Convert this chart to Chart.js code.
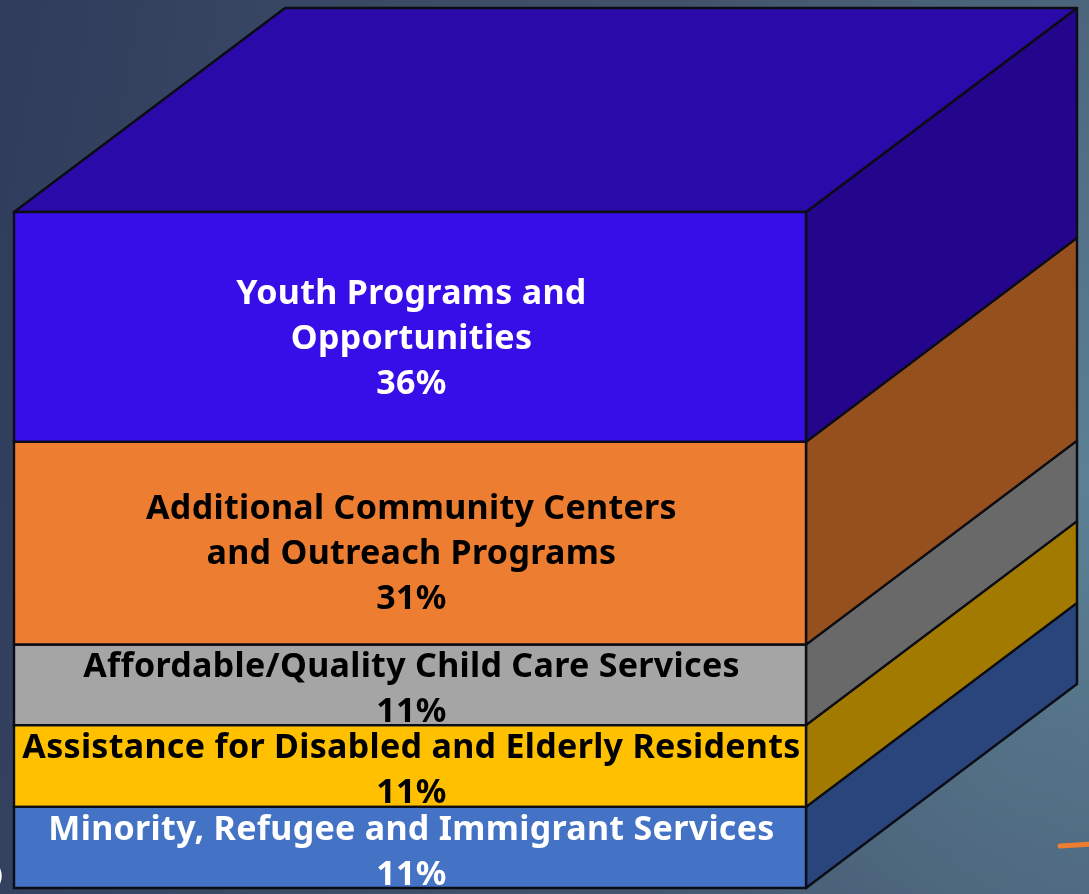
<!DOCTYPE html>
<html>
<head>
<meta charset="utf-8">
<title>Priorities</title>
<script src="https://cdn.jsdelivr.net/npm/chart.js@4"></script>
<style>
    html, body { margin: 0; padding: 0; width: 1089px; height: 894px; overflow: hidden; }
    body {
        background:
            radial-gradient(ellipse 620px 620px at 1089px 480px, #5c8194 0%, rgba(92,129,148,0) 100%),
            linear-gradient(100deg, #2f3c5c 0%, #3f5068 45%, #4a6078 100%);
    }
    #wrap { width: 1089px; height: 894px; }
</style>
</head>
<body>
<div id="wrap"><canvas id="chart" width="1089" height="894"></canvas></div>
<script>
// bottom to top
const categories = ['Responses'];
const segmentNames = [
    ['Minority, Refugee and Immigrant Services'],
    ['Assistance for Disabled and Elderly Residents'],
    ['Affordable/Quality Child Care Services'],
    ['Additional Community Centers', 'and Outreach Programs'],
    ['Youth Programs and', 'Opportunities']
];
const percentLabels = ['11%', '11%', '11%', '31%', '36%'];
const barHeights = [12, 12.1, 11.9, 30, 34];
const frontColors = ['#4472c4', '#ffc000', '#a5a5a5', '#ed7d31', '#370ee8'];
const sideColors = ['#29457c', '#a37a00', '#696969', '#96501e', '#23068c'];
const labelColors = ['#ffffff', '#000000', '#000000', '#000000', '#ffffff'];
const topColor = '#2a0aa8';

// 立體效果的深度
const depthX = 271;
const depthY = -204;

function poly(ctx, pts, fill) {
    ctx.beginPath();
    pts.forEach((p, i) => i ? ctx.lineTo(p[0], p[1]) : ctx.moveTo(p[0], p[1]));
    ctx.closePath();
    if (fill) {
        ctx.fillStyle = fill;
        ctx.fill();
    }
    ctx.lineWidth = 2.4;
    ctx.strokeStyle = '#0c0c14';
    ctx.stroke();
}

const boxPlugin = {
    id: 'box3d',
    beforeDatasetsDraw(chart) {
        const ctx = chart.ctx;
        ctx.save();
        ctx.lineJoin = 'round';
        chart.data.datasets.forEach((ds, i) => {
            const bar = chart.getDatasetMeta(i).data[0];
            const r = bar.x + bar.width / 2;
            poly(ctx, [
                [r, bar.base], [r, bar.y],
                [r + depthX, bar.y + depthY], [r + depthX, bar.base + depthY]
            ], sideColors[i]);
        });
        // 頂面
        const last = chart.getDatasetMeta(chart.data.datasets.length - 1).data[0];
        const l = last.x - last.width / 2;
        const r = last.x + last.width / 2;
        poly(ctx, [
            [l, last.y], [l + depthX, last.y + depthY],
            [r + depthX, last.y + depthY], [r, last.y]
        ], topColor);
        ctx.restore();
    },
    afterDatasetsDraw(chart) {
        const ctx = chart.ctx;
        // 文字,超出區塊的部分會被下一塊蓋住
        chart.data.datasets.forEach((ds, i) => {
            const bar = chart.getDatasetMeta(i).data[0];
            const l = bar.x - bar.width / 2;
            const h = bar.base - bar.y;
            const lines = segmentNames[i].concat(percentLabels[i]);
            const cy = (bar.base + bar.y) / 2 + 1 + h * 0.05;
            const first = cy - (lines.length - 1) * 45 / 2;
            ctx.save();
            ctx.beginPath();
            ctx.rect(l, bar.y, bar.width, h);
            ctx.clip();
            ctx.textAlign = 'center';
            ctx.textBaseline = 'middle';
            ctx.font = 'bold 34px "Noto Sans"';
            ctx.letterSpacing = '0.3px';
            ctx.fillStyle = labelColors[i];
            lines.forEach((t, k) => ctx.fillText(t, bar.x + 1.5, first + k * 45));
            ctx.restore();
        });

        ctx.save();
        chart.data.datasets.forEach((ds, i) => {
            const bar = chart.getDatasetMeta(i).data[0];
            const l = bar.x - bar.width / 2;
            const r = bar.x + bar.width / 2;
            poly(ctx, [[l, bar.base], [l, bar.y], [r, bar.y], [r, bar.base]]);
        });
        ctx.restore();

        // 背景上的小筆跡
        ctx.save();
        ctx.strokeStyle = '#ed7d31';
        ctx.lineWidth = 5;
        ctx.lineCap = 'round';
        ctx.beginPath();
        ctx.moveTo(1060, 846);
        ctx.lineTo(1092, 844);
        ctx.stroke();
        ctx.fillStyle = '#ffffff';
        ctx.font = 'bold 26px "DejaVu Sans"';
        ctx.textBaseline = 'alphabetic';
        ctx.fillText(')', -8, 884);
        ctx.restore();
    }
};

new Chart(document.getElementById('chart'), {
    type: 'bar',
    data: {
        labels: categories,
        datasets: barHeights.map((v, i) => ({
            label: segmentNames[i].join(' '),
            data: [v],
            backgroundColor: frontColors[i],
            borderWidth: 0
        }))
    },
    options: {
        responsive: false,
        animation: false,
        layout: { padding: { left: 14, right: 283, top: 212, bottom: 6 } },
        datasets: { bar: { barPercentage: 1, categoryPercentage: 1 } },
        scales: {
            x: { stacked: true, display: false },
            y: { stacked: true, display: false, min: 0, max: 100 }
        },
        plugins: {
            legend: { display: false },
            tooltip: { enabled: false },
            title: { display: false }
        }
    },
    plugins: [boxPlugin]
});
</script>
</body>
</html>
